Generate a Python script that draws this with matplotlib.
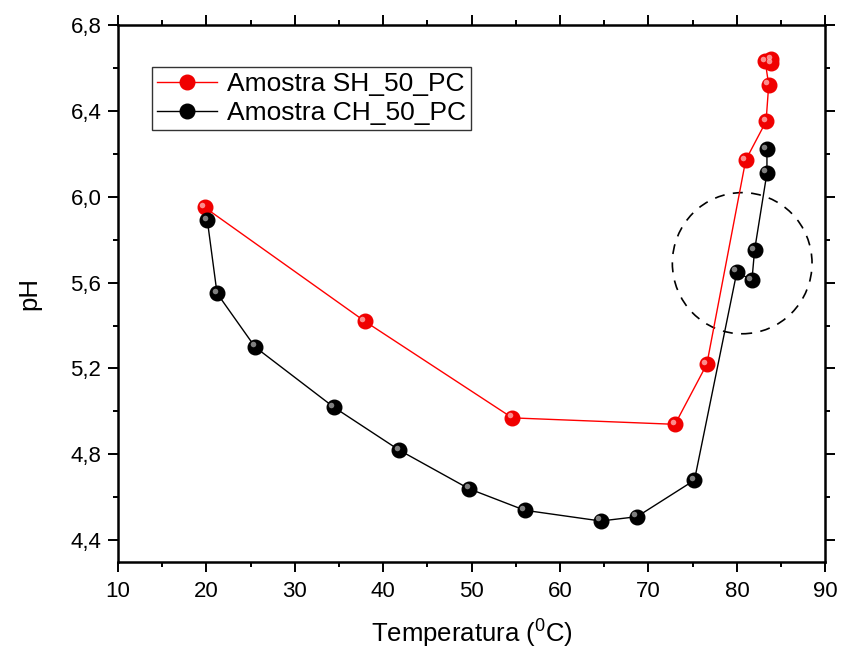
import matplotlib
matplotlib.use("Agg")
import matplotlib.pyplot as plt
from matplotlib.patches import Ellipse
from matplotlib.ticker import FuncFormatter, MultipleLocator
from matplotlib.transforms import ScaledTranslation

plt.rcParams["font.family"] = ["Liberation Sans", "DejaVu Sans"]
plt.rcParams["mathtext.default"] = "regular"

# Amostra SH_50_PC (red)
sh_temp = [19.8, 37.9, 54.6, 73.0, 76.6, 81.0, 83.3, 83.6, 83.2, 83.9, 83.9]
sh_ph = [5.95, 5.42, 4.97, 4.94, 5.22, 6.17, 6.35, 6.52, 6.63, 6.64, 6.62]

# Amostra CH_50_PC (black)
ch_temp = [20.1, 21.2, 25.5, 34.4, 41.8, 49.7, 56.0, 64.6, 68.7, 75.2,
           80.0, 81.7, 82.0, 83.4, 83.4]
ch_ph = [5.89, 5.55, 5.30, 5.02, 4.82, 4.64, 4.54, 4.49, 4.51, 4.68,
         5.65, 5.61, 5.75, 6.11, 6.22]

x_ticks = [10, 20, 30, 40, 50, 60, 70, 80, 90]
y_ticks = [4.4, 4.8, 5.2, 5.6, 6.0, 6.4, 6.8]

fig = plt.figure(figsize=(8.43, 6.51), dpi=100)
ax = fig.add_axes([0.14, 0.137, 0.839, 0.825])

shift = ax.transData + ScaledTranslation(-1.8 / 72, 1.8 / 72, fig.dpi_scale_trans)


def ball_series(x, y, line_color, base, shine, label):
    ax.plot(x, y, "-", color=line_color, lw=1.0, zorder=2)
    ax.plot(x, y, "o", ms=10.5, color=base, mec=base, zorder=3)
    # small highlight to mimic the shaded sphere markers
    ax.plot(x, y, "o", ms=4, color=shine, mec="none", alpha=0.8, zorder=4,
            transform=shift)
    return ax.plot([], [], "-o", color=line_color, ms=10.5, mfc=base, mec=base,
                   lw=1.0, label=label)[0]


h1 = ball_series(sh_temp, sh_ph, "red", "#f00000", "#ffb0b0", "Amostra SH_50_PC")
h2 = ball_series(ch_temp, ch_ph, "black", "#000000", "#a0a0a0", "Amostra CH_50_PC")

# dashed circle around the points near 80 °C
ax.add_patch(Ellipse((80.6, 5.69), 15.8, 0.657, fill=False, ls=(0, (6, 5)),
                     lw=1.2, color="black", zorder=1))

ax.set_xlim(10, 90)
ax.set_ylim(4.3, 6.8)
ax.set_xticks(x_ticks)
ax.set_yticks(y_ticks)
ax.xaxis.set_minor_locator(MultipleLocator(5))
ax.yaxis.set_minor_locator(MultipleLocator(0.2))
ax.yaxis.set_major_formatter(FuncFormatter(lambda v, p: f"{v:.1f}".replace(".", ",")))

ax.tick_params(which="both", direction="out", top=True, right=True,
               labeltop=False, labelright=False, width=1.4)
ax.tick_params(which="major", length=7, labelsize=16)
ax.tick_params(which="minor", length=3.5)
ax.tick_params(axis="x", which="major", pad=7)
ax.tick_params(axis="y", which="major", pad=5)
for s in ax.spines.values():
    s.set_linewidth(1.8)

ax.set_xlabel("Temperatura ($^{0}$C)", fontsize=18.5, labelpad=11)
ax.set_ylabel("pH", fontsize=18.5, labelpad=21)

leg = ax.legend(handles=[h1, h2], loc="upper left", bbox_to_anchor=(0.048, 0.922),
                borderaxespad=0, fontsize=19, frameon=True, fancybox=False,
                edgecolor="black", handlelength=2.25, handletextpad=0.38,
                borderpad=0.2, labelspacing=0.2)
leg.get_frame().set_linewidth(1.0)

fig.savefig("out.png", dpi=100)
